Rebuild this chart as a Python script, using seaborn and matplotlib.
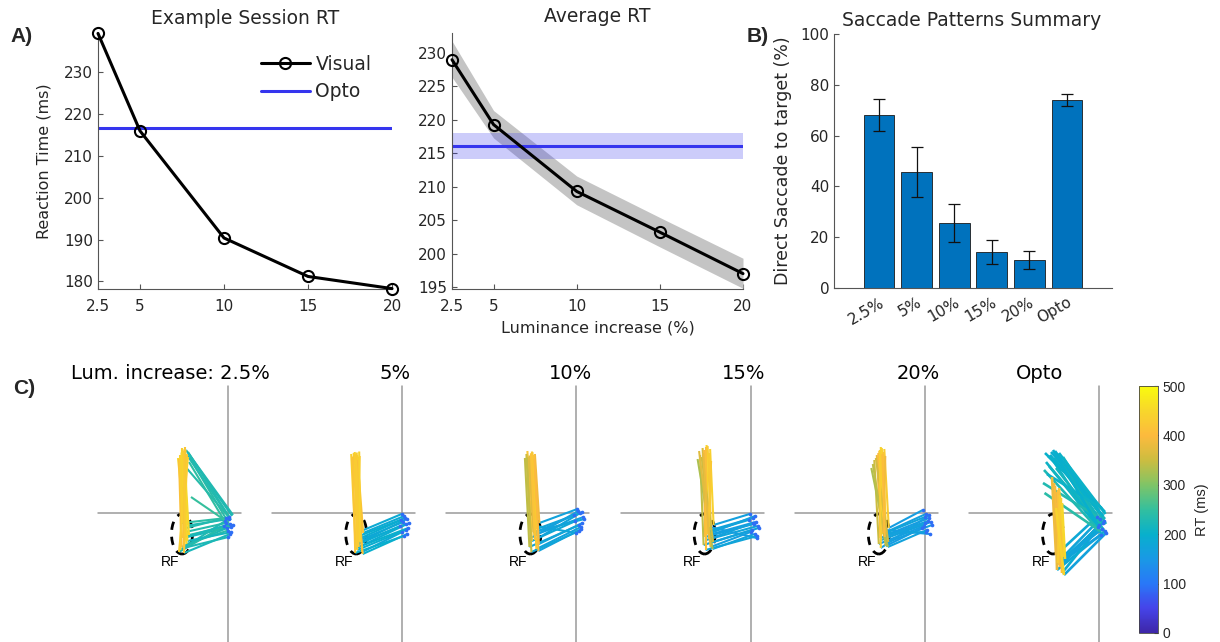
import numpy as np
import matplotlib
matplotlib.use("Agg")
import matplotlib.pyplot as plt
import seaborn as sns
import pandas as pd
from matplotlib.colors import LinearSegmentedColormap, Normalize
from matplotlib.collections import LineCollection
from matplotlib.patches import Ellipse
from matplotlib.lines import Line2D
from matplotlib.cm import ScalarMappable

# ---------------- data ----------------
lum = [2.5, 5, 10, 15, 20]
lum_ticks = ["2.5", "5", "10", "15", "20"]
session_rt = [239.3, 216.0, 190.4, 181.2, 178.3]
session_opto = 216.8
avg_rt = [229.0, 219.3, 209.3, 203.2, 197.0]
avg_lo = [226.4, 217.3, 207.3, 201.0, 194.8]
avg_hi = [231.8, 221.4, 211.6, 205.4, 199.3]
avg_opto = 216.1
avg_opto_lo = 214.1
avg_opto_hi = 218.1

bar_labels = ["2.5%", "5%", "10%", "15%", "20%", "Opto"]
bar_vals = [68.2, 45.8, 25.5, 14.2, 10.9, 74.0]
bar_lo = [61.8, 36.0, 18.0, 9.5, 7.3, 71.5]
bar_hi = [74.5, 55.6, 33.0, 18.8, 14.6, 76.5]

panel_titles = ["Lum. increase: 2.5%", "5%", "10%", "15%", "20%", "Opto"]

# two-step saccades: fixation -> RF -> target (deg), RT (ms) at each landing
fix_x = [
    [0.2, -0.4, 0.6, 0.0, -0.6, 0.4, 1.0, -0.2, 0.3, -0.8, 0.7, 0.1, -0.3, 0.5],
    [0.4, -0.2, 0.8, 1.2, 0.0, 0.6, -0.4, 1.0, 0.2, 0.7, -0.1, 1.4, 0.3, 0.9],
    [0.2, 0.8, 1.4, -0.2, 0.6, 1.0, 0.0, 1.6, 0.4, 1.2, 0.9, -0.4, 0.5, 1.1],
    [-0.2, 0.4, 1.0, 1.4, 0.2, 0.8, 1.2, -0.4, 0.6, 1.6, 0.0, 0.9, 1.3, 0.5],
    [-0.4, 0.2, 0.8, 1.2, -0.2, 0.4, 1.0, 0.0, 0.6, 1.4, -0.6, 0.3, 0.9, 0.1],
    [0.2, 0.8, -0.2, 1.2, 0.4, 1.0, 0.0, 0.6, 1.4, -0.4],
]
fix_y = [
    [-1.2, -2.0, -2.8, -3.5, -1.6, -4.2, -2.4, -3.0, -0.8, -2.6, -3.8, -4.8, -1.0, -2.2],
    [-0.6, -1.4, -2.2, -3.0, -3.8, -1.0, -2.6, -4.2, -1.8, -3.4, -0.2, -2.0, -4.6, -1.2],
    [0.8, 0.0, -0.8, -1.6, -2.4, -3.2, -4.0, -1.2, 0.4, -2.0, -2.8, -0.4, -3.6, 0.2],
    [-0.2, -1.0, -1.8, -2.6, -3.4, -4.2, -5.0, -1.4, -2.2, -3.0, -3.8, -0.6, -4.6, -2.0],
    [0.6, -0.2, -1.0, -1.8, -2.6, -3.4, -4.2, -0.8, -1.6, -2.4, -3.0, -3.8, -0.4, -2.0],
    [-1.2, -2.0, -2.8, -3.6, -4.4, -1.6, -2.4, -3.2, -4.0, -0.8],
]
rf_x = [
    [-8.0, -8.5, -9.0, -8.3, -9.5, -8.8, -7.8, -9.3, -8.4, -9.8, -8.1, -8.9, -9.2, -8.6],
    [-7.8, -8.3, -8.8, -9.3, -8.0, -8.6, -9.1, -7.9, -8.5, -9.0, -8.2, -8.7, -9.4, -8.4],
    [-7.4, -7.9, -8.4, -8.9, -9.4, -7.6, -8.1, -8.6, -9.1, -7.5, -8.0, -8.5, -9.0, -8.3],
    [-7.4, -7.9, -8.4, -8.9, -9.4, -7.6, -8.1, -8.6, -9.1, -7.5, -8.0, -8.5, -9.0, -8.3],
    [-7.2, -7.7, -8.2, -8.7, -9.2, -7.4, -7.9, -8.4, -8.9, -7.3, -7.8, -8.3, -8.8, -8.0],
    [-7.2, -7.6, -8.0, -8.4, -6.8, -7.4, -7.8, -8.2, -7.0, -8.6],
]
rf_y = [
    [-2.5, -3.8, -5.0, -6.2, -7.4, -8.0, -4.4, -6.8, -3.0, -7.8, -5.6, -7.0, -2.0, -4.8],
    [-4.0, -5.0, -6.0, -7.0, -7.8, -4.6, -6.4, -8.2, -5.4, -7.4, -3.6, -6.8, -8.0, -5.8],
    [-2.0, -3.2, -4.4, -5.6, -6.8, -7.6, -2.6, -3.8, -5.0, -6.2, -7.2, -4.0, -7.8, -5.4],
    [-2.4, -3.4, -4.4, -5.4, -6.4, -7.2, -2.8, -3.8, -4.8, -5.8, -6.8, -4.2, -7.4, -5.2],
    [-3.0, -3.8, -4.6, -5.4, -6.2, -6.8, -3.4, -4.2, -5.0, -5.8, -6.6, -4.0, -7.0, -4.8],
    [-8.8, -9.6, -10.4, -11.4, -9.2, -12.0, -10.8, -10.0, -12.4, -8.4],
]
top_x = [
    [-9.0, -9.5, -8.5, -10.0, -9.2, -8.2, -8.8, -9.8, -9.1, -8.0, -9.3, -8.6, -9.6, -8.9],
    [-9.0, -9.7, -8.7, -10.2, -9.2, -9.5, -8.5, -10.0, -9.1, -9.6, -8.8, -9.3, -9.9, -8.6],
    [-8.3, -8.8, -9.3, -9.8, -10.3, -8.5, -9.0, -9.5, -10.0, -8.4, -8.9, -9.4, -9.9, -9.1],
    [-8.1, -8.6, -9.1, -9.6, -10.1, -10.6, -8.3, -8.8, -9.3, -9.8, -10.3, -7.9, -9.0, -9.5],
    [-8.1, -8.6, -9.1, -9.6, -10.1, -10.7, -8.3, -8.8, -9.3, -9.8, -10.4, -7.9, -9.0, -8.5],
    [-8.0, -8.4, -7.6, -8.8, -7.4, -8.2, -9.0, -7.8, -8.6, -9.4],
]
top_y = [
    [12.0, 11.4, 12.6, 11.0, 13.0, 11.8, 12.3, 10.8, 12.8, 11.2, 12.1, 13.2, 11.6, 12.5],
    [11.6, 12.0, 11.2, 11.8, 10.8, 12.2, 11.4, 11.0, 12.1, 11.7, 10.6, 11.9, 11.3, 12.3],
    [11.8, 12.2, 11.4, 12.4, 11.0, 11.6, 12.0, 11.2, 11.8, 10.8, 12.3, 11.5, 11.1, 11.9],
    [12.8, 13.4, 12.2, 13.0, 11.6, 10.8, 12.0, 13.6, 12.6, 11.2, 12.4, 10.4, 13.2, 12.0],
    [12.8, 13.0, 12.4, 11.6, 10.6, 9.0, 12.2, 13.2, 12.0, 11.0, 9.8, 11.4, 12.6, 11.8],
    [5.0, 4.2, 3.0, 5.4, 2.0, 4.6, 6.0, 3.6, 1.0, 7.2],
]
t_rf = [
    [225, 235, 215, 240, 230, 220, 245, 228, 232, 238, 218, 226, 242, 222],
    [185, 195, 190, 200, 180, 192, 188, 198, 183, 194, 186, 190, 196, 182],
    [170, 175, 165, 180, 172, 168, 178, 174, 166, 176, 171, 169, 177, 173],
    [165, 170, 160, 175, 168, 172, 162, 178, 166, 171, 164, 169, 174, 167],
    [160, 165, 158, 170, 162, 168, 156, 172, 164, 166, 159, 171, 163, 167],
    [175, 180, 170, 185, 165, 190, 178, 172, 168, 182],
]
t_top = [
    [430, 445, 420, 455, 438, 425, 450, 410, 440, 432, 448, 418, 436, 428],
    [420, 440, 410, 435, 400, 445, 425, 415, 438, 430, 405, 428, 418, 442],
    [390, 430, 360, 420, 340, 410, 440, 380, 350, 400, 425, 370, 345, 415],
    [440, 420, 390, 360, 340, 330, 430, 445, 400, 350, 370, 425, 410, 380],
    [430, 440, 410, 380, 350, 330, 420, 445, 400, 360, 340, 390, 435, 405],
    [420, 400, 440, 380, 450, 410, 395, 430, 445, 385],
]
# direct saccades: fixation -> target
direct_panel = [0, 5]
dfix_x = [
    [0.4, 0.0, 0.8, -0.2, 0.6, 0.2, 0.5, 1.0],
    [0.0, 0.6, 1.2, -0.4, 0.8, 0.2, 1.4, -0.2, 1.0, 0.4, 0.0, 1.2, 0.6, -0.4, 0.9, 0.3, 1.1, 0.5,
     0.7, -0.1, 1.3, 0.2],
]
dfix_y = [
    [-1.0, -1.8, -0.6, -2.4, -1.4, -2.0, -1.2, -0.4],
    [1.4, 0.8, 0.2, -0.4, -1.0, -1.6, -2.2, -2.8, -3.4, -4.0, 0.4, -1.2, -2.0, -3.0, -0.6, -2.4, -3.8, 1.0,
     -1.4, -2.6, -0.2, -3.6],
]
dend_x = [
    [-8.0, -7.6, -8.4, -7.8, -8.2, -7.4, -8.3, -7.9],
    [-10.8, -10.2, -9.6, -9.0, -8.4, -7.8, -7.2, -10.6, -10.0, -9.4, -8.8, -8.2, -7.6, -11.0, -9.8, -8.6, -7.4, -10.4,
     -11.2, -9.2, -8.0, -10.9],
]
dend_y = [
    [12.2, 11.0, 12.6, 10.2, 11.6, 3.2, 9.0, 11.9],
    [12.0, 11.4, 12.2, 11.0, 11.8, 10.6, 11.2, 10.2, 9.4, 10.8, 12.4, 9.8, 10.0, 8.6, 11.6, 9.0, 9.6, 7.8,
     6.0, 12.6, 12.0, 4.0],
]
d_t = [
    [235, 240, 228, 245, 232, 250, 238, 230],
    [200, 205, 195, 210, 198, 215, 220, 208, 212, 203, 196, 218, 214, 225, 201, 216, 222, 207,
     230, 199, 204, 240],
]
fix_rt = 90
cbar_ticks = [0, 100, 200, 300, 400, 500]

# ---------------- style ----------------
sns.set_style("ticks")
plt.rcParams["font.family"] = ["DejaVu Sans"]
AX_COL = "#555555"
TXT_COL = "#262626"
plt.rcParams.update({
    "axes.edgecolor": AX_COL, "axes.linewidth": 0.8,
    "xtick.color": AX_COL, "ytick.color": AX_COL,
    "xtick.labelcolor": TXT_COL, "ytick.labelcolor": TXT_COL,
    "xtick.direction": "in", "ytick.direction": "in",
    "xtick.major.size": 3.5, "ytick.major.size": 3.5,
    "xtick.labelsize": 11, "ytick.labelsize": 11,
})

parula = LinearSegmentedColormap.from_list("parula", [
    (0.0, (0.2422, 0.1504, 0.6603)), (0.1, (0.272, 0.267, 0.915)),
    (0.2, (0.16, 0.47, 0.97)), (0.3, (0.10, 0.60, 0.90)),
    (0.4, (0.03, 0.69, 0.80)), (0.5, (0.20, 0.75, 0.62)),
    (0.6, (0.50, 0.77, 0.40)), (0.7, (0.80, 0.74, 0.25)),
    (0.8, (0.99, 0.73, 0.24)), (0.9, (0.97, 0.84, 0.17)),
    (1.0, (0.977, 0.983, 0.054))])
norm = Normalize(0, 500)

W, H = 1220, 642
fig = plt.figure(figsize=(W / 100, H / 100), dpi=100)


def px_axes(l, t, r, b):
    return fig.add_axes([l / W, 1 - b / H, (r - l) / W, (b - t) / H])


BLUE = "#3535EE"

# ---------------- A1 ----------------
ax1 = px_axes(98, 33, 392, 289)
df1 = pd.DataFrame({"lum": lum, "rt": session_rt})
sns.lineplot(data=df1, x="lum", y="rt", ax=ax1, color="k", lw=2.2, marker="o",
             markersize=8, markerfacecolor="none", markeredgecolor="k",
             markeredgewidth=1.5, clip_on=False, zorder=3)
ax1.axhline(session_opto, color=BLUE, lw=2.2, zorder=2)
ax1.set_xlim(2.5, 20)
ax1.set_ylim(178.2, 239.4)
ax1.set_xticks(lum, lum_ticks)
ax1.set_yticks([180, 190, 200, 210, 220, 230])
ax1.set_xlabel("")
ax1.set_ylabel("Reaction Time (ms)", fontsize=11.5, color=TXT_COL, labelpad=9)
ax1.tick_params(axis="x", pad=7)
sns.despine(ax=ax1)
handles = [Line2D([], [], color="k", lw=2.2, marker="o", markersize=8,
                  markerfacecolor="none", markeredgewidth=1.5),
           Line2D([], [], color=BLUE, lw=2.2)]
ax1.legend(handles, ["Visual", "Opto"], loc="upper right", bbox_to_anchor=(0.93, 0.915),
           frameon=False, fontsize=13.5, handlelength=2.6, handletextpad=0.3,
           labelspacing=0.45, borderpad=0, borderaxespad=0)
fig.text(245 / W, 1 - 18 / H, "Example Session RT", fontsize=13.5, ha="center",
         va="center", color=TXT_COL)

# ---------------- A2 ----------------
ax2 = px_axes(452, 33, 743, 289)
ax2.fill_between(lum, avg_lo, avg_hi, color="#c4c4c4", lw=0, zorder=1)
ax2.axhspan(avg_opto_lo, avg_opto_hi, color=BLUE, alpha=0.25, lw=0, zorder=1.5)
ax2.axhline(avg_opto, color=BLUE, lw=2.2, zorder=2)
df2 = pd.DataFrame({"lum": lum, "rt": avg_rt})
sns.lineplot(data=df2, x="lum", y="rt", ax=ax2, color="k", lw=2.2, marker="o",
             markersize=8, markerfacecolor="none", markeredgecolor="k",
             markeredgewidth=1.5, clip_on=False, zorder=3)
ax2.set_xlim(2.5, 20)
ax2.set_ylim(194.7, 233)
ax2.set_xticks(lum, lum_ticks)
ax2.set_yticks([195, 200, 205, 210, 215, 220, 225, 230])
ax2.set_ylabel("")
ax2.set_xlabel("Luminance increase (%)", fontsize=11.5, color=TXT_COL, labelpad=5)
ax2.tick_params(axis="x", pad=7)
sns.despine(ax=ax2)
fig.text(597 / W, 1 - 17 / H, "Average RT", fontsize=13.5, ha="center",
         va="center", color=TXT_COL)

# ---------------- B ----------------
ax3 = px_axes(834, 34, 1112, 288)
sns.barplot(x=bar_labels, y=bar_vals, order=bar_labels, color="#0072BD",
            saturation=1, width=0.82, edgecolor="#1a1a1a", linewidth=0.6, ax=ax3)
vals = np.array(bar_vals)
ax3.errorbar(np.arange(len(bar_vals)), vals,
             yerr=[vals - np.array(bar_lo), np.array(bar_hi) - vals],
             fmt="none", ecolor="#111111", elinewidth=0.9, capsize=4, capthick=0.9)
ax3.set_xlim(-1.2, 6.2)
ax3.set_ylim(0, 100)
ax3.set_yticks([0, 20, 40, 60, 80, 100])
ax3.set_ylabel("Direct Saccade to target (%)", fontsize=12.5, color=TXT_COL, labelpad=6)
ax3.tick_params(axis="x", length=0, pad=5)
for lab in ax3.get_xticklabels():
    lab.set_rotation(30)
    lab.set_ha("right")
    lab.set_rotation_mode("anchor")
sns.despine(ax=ax3)
fig.text(972 / W, 1 - 21 / H, "Saccade Patterns Summary", fontsize=13.5, ha="center",
         va="center", color=TXT_COL)

# ---------------- C ----------------
cross_x = [228 + 174.2 * k for k in range(6)]
title_pos = [(170, "center"), (411, "right"), (592, "right"), (765, "right"),
             (940, "right"), (1040, "center")]
for k in range(6):
    X = cross_x[k]
    ax = px_axes(X - 150, 380, X + 20, 642)
    ax.set_xlim(-30, 4)
    ax.set_ylim(-25.8, 26.6)
    ax.axis("off")
    ax.plot([-26, 2.6], [0, 0], color="#9a9a9a", lw=1.1, zorder=1)
    ax.plot([0, 0], [-25.8, 25.4], color="#9a9a9a", lw=1.1, zorder=1, clip_on=False)
    ax.add_patch(Ellipse((-9.2, -4.2), 4.2, 8.0, fill=False, ec="k", lw=2.0,
                         ls=(0, (3, 2.5)), zorder=2))
    ax.text(-11.6, -9.8, "RF", fontsize=10, ha="center", va="center",
            family="Liberation Sans", color="k", zorder=5)
    segs, cols = [], []
    for i in range(len(fix_x[k])):
        segs.append([(fix_x[k][i], fix_y[k][i]), (rf_x[k][i], rf_y[k][i])])
        cols.append(parula(norm(t_rf[k][i])))
    if k in direct_panel:
        j = direct_panel.index(k)
        for i in range(len(dfix_x[j])):
            segs.append([(dfix_x[j][i], dfix_y[j][i]), (dend_x[j][i], dend_y[j][i])])
            cols.append(parula(norm(d_t[j][i])))
    for i in range(len(fix_x[k])):
        segs.append([(rf_x[k][i], rf_y[k][i]), (top_x[k][i], top_y[k][i])])
        cols.append(parula(norm(t_top[k][i])))
    lw = 1.9 if k == 5 else 1.5
    ax.add_collection(LineCollection(segs, colors=cols, linewidths=lw, zorder=3))
    ax.scatter(fix_x[k], fix_y[k], s=7, marker="o", color=parula(norm(fix_rt)),
               lw=0, zorder=4)
    xt, ha = title_pos[k]
    fig.text(xt / W, 1 - 374 / H, panel_titles[k], fontsize=14, ha=ha, va="center",
             color="k")

cax = px_axes(1139, 386, 1158, 633)
cb = fig.colorbar(ScalarMappable(norm=norm, cmap=parula), cax=cax, ticks=cbar_ticks)
cb.outline.set_edgecolor("#444444")
cb.outline.set_linewidth(0.6)
cax.tick_params(direction="in", length=3, labelsize=10, color="#333333")
for lab in cax.get_yticklabels():
    lab.set_family("Liberation Sans")
cb.set_label("RT (ms)", fontsize=10.5, family="Liberation Sans", labelpad=6)

# panel letters
for txt, x, y in [("A)", 22, 37), ("B)", 758, 36), ("C)", 24, 388)]:
    fig.text(x / W, 1 - y / H, txt, fontsize=15, fontweight="bold", ha="center",
             va="center", family="Liberation Sans")

fig.savefig("out.png", dpi=100)
